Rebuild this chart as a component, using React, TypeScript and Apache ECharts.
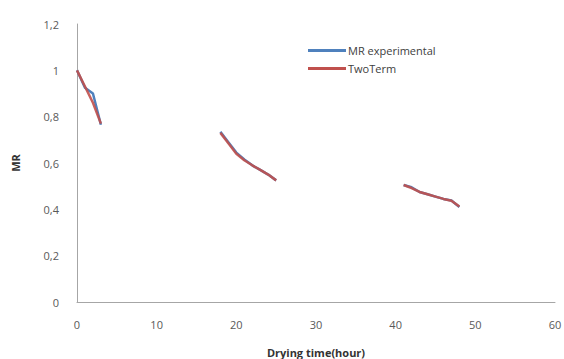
import React, { useEffect, useRef } from "react";
import * as echarts from "echarts";

const seriesNames = ["MR experimental", "TwoTerm"];
const hours1 = [0, 1, 2, 3];
const hours2 = [18, 19, 20, 21, 22, 23, 24, 25];
const hours3 = [41, 42, 43, 44, 45, 46, 47, 48];
const expMR1 = [1.0, 0.925, 0.9, 0.765];
const expMR2 = [0.735, 0.69, 0.645, 0.615, 0.59, 0.57, 0.55, 0.525];
const expMR3 = [0.505, 0.495, 0.475, 0.465, 0.455, 0.445, 0.438, 0.41];
const twoMR1 = [1.0, 0.93, 0.86, 0.77];
const twoMR2 = [0.73, 0.685, 0.64, 0.612, 0.59, 0.57, 0.55, 0.525];
const twoMR3 = [0.505, 0.492, 0.475, 0.465, 0.455, 0.445, 0.437, 0.412];
const xTicks = [0, 10, 20, 30, 40, 50, 60];
const yTicks = [0, 0.2, 0.4, 0.6, 0.8, 1, 1.2];

function build(a: number[], b: number[], c: number[]) {
  const out: any[] = [];
  hours1.forEach((h, i) => out.push([h, a[i]]));
  out.push([10, "-"]);
  hours2.forEach((h, i) => out.push([h, b[i]]));
  out.push([33, "-"]);
  hours3.forEach((h, i) => out.push([h, c[i]]));
  return out;
}

export default function App() {
  const ref = useRef<HTMLDivElement>(null);
  useEffect(() => {
    if (!ref.current) return;
    const chart = echarts.init(ref.current, null, { renderer: "svg" });
    const font = "Open Sans";
    chart.setOption({
      animation: false,
      backgroundColor: "#ffffff",
      grid: { left: 77, right: 9, top: 24, bottom: 57, outerBoundsMode: "none", containLabel: false },
      legend: {
        orient: "vertical",
        left: 303,
        top: 40,
        itemWidth: 38,
        itemHeight: 3,
        itemGap: 7,
        icon: "rect",
        textStyle: { fontFamily: font, fontSize: 11, color: "#404040", padding: [0, 0, 0, -3] },
        data: seriesNames,
      },
      xAxis: {
        type: "value",
        min: 0,
        max: 60,
        interval: 10,
        name: "Drying time(hour)",
        nameLocation: "middle",
        nameGap: 45,
        nameTextStyle: { fontFamily: font, fontSize: 11, fontWeight: "bold", color: "#333" },
        axisLine: { show: true, lineStyle: { color: "#a6a6a6", width: 1 } },
        axisTick: { show: false },
        splitLine: { show: false },
        axisLabel: {
          fontFamily: font,
          fontSize: 11,
          color: "#595959",
          margin: 17,
          formatter: (v: number) => (xTicks.includes(v) ? String(v) : ""),
        },
      },
      yAxis: {
        type: "value",
        min: 0,
        max: 1.2,
        interval: 0.2,
        name: "MR",
        nameLocation: "middle",
        nameGap: 56,
        nameRotate: 90,
        nameTextStyle: { fontFamily: font, fontSize: 11, fontWeight: "bold", color: "#333" },
        axisLine: { show: true, lineStyle: { color: "#a6a6a6", width: 1 } },
        axisTick: { show: false },
        splitLine: { show: false },
        axisLabel: {
          fontFamily: font,
          fontSize: 11,
          color: "#595959",
          margin: 18,
          formatter: (v: number) => {
            const t = yTicks.find((y) => Math.abs(y - v) < 1e-6);
            return t === undefined ? "" : String(t).replace(".", ",");
          },
        },
      },
      series: [
        {
          name: seriesNames[0],
          type: "line",
          data: build(expMR1, expMR2, expMR3),
          showSymbol: false,
          symbol: "none",
          connectNulls: false,
          lineStyle: { color: "#4F81BD", width: 2.5 },
          itemStyle: { color: "#4F81BD" },
        },
        {
          name: seriesNames[1],
          type: "line",
          data: build(twoMR1, twoMR2, twoMR3),
          showSymbol: false,
          symbol: "none",
          connectNulls: false,
          lineStyle: { color: "#C0504D", width: 2.5, opacity: 0.9 },
          itemStyle: { color: "#C0504D" },
        },
      ],
    });
    return () => chart.dispose();
  }, []);
  return <div ref={ref} style={{ width: 564, height: 359, position: "fixed", left: 0, top: 0 }} />;
}
